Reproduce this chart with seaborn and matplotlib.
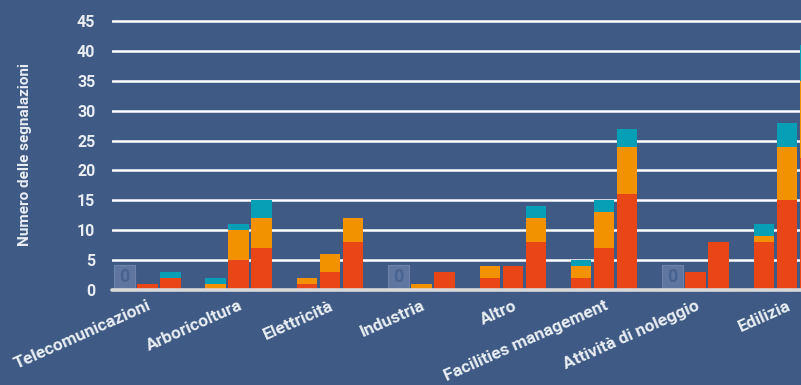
import matplotlib
matplotlib.use("Agg")
import matplotlib.pyplot as plt
import pandas as pd
import seaborn as sns

# Sectors on the x axis, three reporting periods per sector
categories = [
    "Telecomunicazioni", "Arboricoltura", "Elettricità", "Industria",
    "Altro", "Facilities management", "Attività di noleggio", "Edilizia",
]
periods = ["P1", "P2", "P3"]

# Stacked components per sector (rows) and period (columns)
red_vals = [
    [0, 1, 2],
    [0, 5, 7],
    [1, 3, 8],
    [0, 0, 3],
    [2, 4, 8],
    [2, 7, 16],
    [0, 3, 8],
    [8, 15, 22],
]
orange_vals = [
    [0, 0, 0],
    [1, 5, 5],
    [1, 3, 4],
    [0, 1, 0],
    [2, 0, 4],
    [2, 6, 8],
    [0, 0, 0],
    [1, 9, 13],
]
teal_vals = [
    [0, 0, 1],
    [1, 1, 3],
    [0, 0, 0],
    [0, 0, 0],
    [0, 0, 2],
    [1, 2, 3],
    [0, 0, 0],
    [2, 4, 6],
]
y_ticks = [0, 5, 10, 15, 20, 25, 30, 35, 40, 45]
y_title = "Numero delle segnalazioni"

BG = "#3f5b85"
RED = "#e84617"
ORANGE = "#f39200"
TEAL = "#079fb6"
TEXT = "#e9edf3"
ZERO_BOX = "#5e76a0"
ZERO_EDGE = "#6e84aa"
ZERO_TEXT = "#48638f"
ZERO_BOX_HEIGHT = 4.2

sns.set_theme(style="white")
plt.rcParams["font.family"] = ["Roboto", "DejaVu Sans"]

rows = []
for ci, cat in enumerate(categories):
    for pi, per in enumerate(periods):
        r = red_vals[ci][pi]
        o = orange_vals[ci][pi]
        t = teal_vals[ci][pi]
        total = r + o + t
        rows.append({
            "categoria": cat,
            "periodo": per,
            "rosso": r,
            "arancio": r + o,
            "totale": total,
            "vuoto": ZERO_BOX_HEIGHT if total == 0 else 0,
        })
df = pd.DataFrame(rows)

fig = plt.figure(figsize=(8.01, 3.85), dpi=100, facecolor=BG)
px_per_unit = (290 - 21) / 45
ax = fig.add_axes([112 / 801, 1 - 290 / 385, 1 - 112 / 801, 46 * px_per_unit / 385])
ax.set_facecolor(BG)

common = dict(
    data=df, x="categoria", hue="periodo", order=categories, hue_order=periods,
    width=0.755, gap=0.11, legend=False, ax=ax, saturation=1, errorbar=None,
)

# Cumulative layers drawn back to front give the stacked look
for col, color in [("totale", TEAL), ("arancio", ORANGE), ("rosso", RED)]:
    sns.barplot(y=col, palette={p: color for p in periods}, linewidth=0, **common)

# Placeholder boxes for periods with no reports
n_before = len(ax.patches)
sns.barplot(y="vuoto", palette={p: ZERO_BOX for p in periods},
            edgecolor=ZERO_EDGE, linewidth=0.8, **common)
for patch in ax.patches[n_before:]:
    if patch.get_height() > 0:
        ax.text(patch.get_x() + patch.get_width() / 2, patch.get_height() / 2, "0",
                ha="center", va="center", color=ZERO_TEXT, fontsize=13,
                fontweight="bold", zorder=6)

ax.set_xlim(-0.386, 7.153)
ax.set_ylim(0, 46)
ax.set_yticks(y_ticks)
ax.yaxis.grid(True, color="white", linewidth=1.8)
ax.xaxis.grid(False)
ax.set_axisbelow(True)
ax.axhline(0, color="#d9d9d9", linewidth=2.6, zorder=5, clip_on=False)

for side in ax.spines.values():
    side.set_visible(False)

ax.set_xlabel("")
ax.set_ylabel("")
ax.tick_params(axis="y", length=0, pad=12, labelcolor=TEXT, labelsize=11.5)
ax.tick_params(axis="x", length=0, pad=6, labelcolor=TEXT, labelsize=12.5)
for lbl in ax.get_yticklabels():
    lbl.set_fontweight("bold")
ax.set_xticks(range(len(categories)))
ax.set_xticklabels(categories, rotation=24, ha="right", rotation_mode="anchor",
                   fontweight="bold")

fig.text(25 / 801, 1 - 155 / 385, y_title, rotation=90, ha="center", va="center",
         color=TEXT, fontsize=11, fontweight="bold")

fig.savefig("out.png", dpi=100, facecolor=BG)
